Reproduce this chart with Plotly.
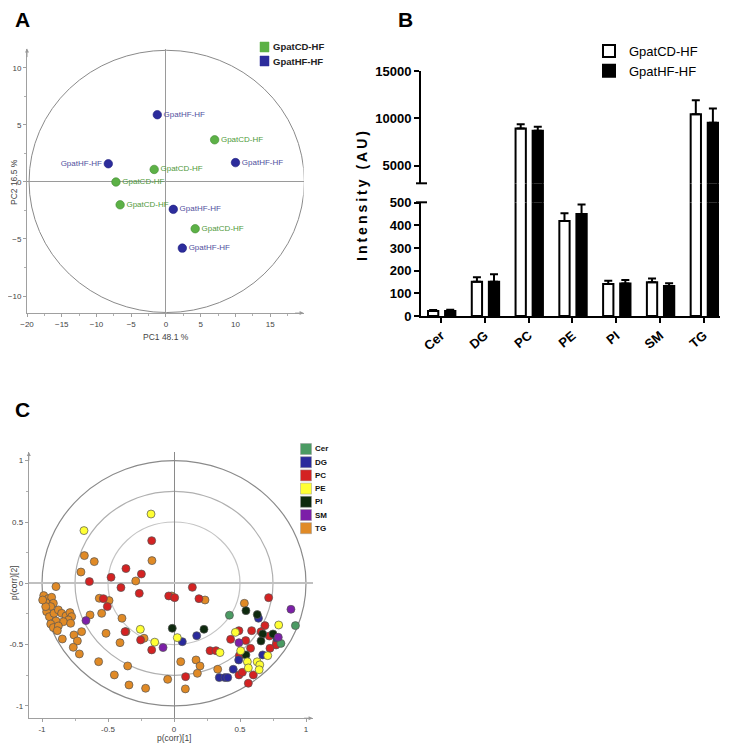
import plotly.graph_objects as go

# ---------------- Panel A data (PCA scores) ----------------
a_groups = ["GpatCD-HF", "GpatHF-HF"]
a_cd_x = [7.0, -1.7, -7.2, -6.6, 4.2]
a_cd_y = [3.7, 1.1, 0.0, -2.0, -4.1]
a_hf_x = [-1.25, -8.3, 10.0, 1.05, 2.35]
a_hf_y = [5.9, 1.6, 1.7, -2.4, -5.8]
a_ellipse_rx = 19.8
a_ellipse_ry = 11.5
a_xticks = [-20, -15, -10, -5, 0, 5, 10, 15]
a_yticks = [-10, -5, 0, 5, 10]

# ---------------- Panel B data (intensities) ----------------
b_classes = ["Cer", "DG", "PC", "PE", "PI", "SM", "TG"]
b_cd_mean = [22, 151, 8950, 419, 141, 149, 10450]
b_cd_err = [5, 20, 450, 35, 15, 17, 1480]
b_hf_mean = [22, 151, 8700, 450, 144, 132, 9540]
b_hf_err = [6, 33, 420, 42, 15, 13, 1510]
b_low_ticks = [0, 100, 200, 300, 400, 500]
b_high_ticks = [5000, 10000, 15000]
b_high_ticktext = ["5000", "10000", "15000"]
b_low_range = [0, 502]
b_gap_range = [500, 3150]
b_high_range = [3150, 15050]

# ---------------- Panel C data (loadings p(corr)) ----------------
c_classes = ["Cer", "DG", "PC", "PE", "PI", "SM", "TG"]
cer_x = [0.42, 0.92, 0.81]
cer_y = [-0.26, -0.345, -0.49]
dg_x = [0.063, 0.172, 0.64, 0.49, 0.449, 0.343, 0.386, 0.407, 0.672, 0.778]
dg_y = [-0.476, -0.427, -0.285, -0.625, -0.701, -0.769, -0.769, -0.769, -0.584, -0.443]
pc_x = [-0.169, -0.364, -0.247, -0.477, -0.641, -0.402, -0.263, -0.535, -0.505, -0.04,
        0.005, 0.139, 0.189, -0.371, -0.253, -0.169, 0.273, 0.318, 0.088, 0.429,
        0.492, 0.543, 0.588, 0.58, 0.495, 0.492, 0.518, 0.601, 0.563, 0.689,
        0.717, 0.722, 0.778, 0.773, 0.659, 0.727]
pc_y = [0.348, 0.12, 0.076, 0.049, 0.014, -0.035, -0.082, -0.125, -0.19, -0.103,
        -0.117, -0.033, -0.125, -0.394, -0.462, -0.543, -0.549, -0.549, -0.761, -0.457,
        -0.386, -0.467, -0.386, -0.53, -0.59, -0.747, -0.726, -0.747, -0.815, -0.345,
        -0.117, -0.43, -0.476, -0.503, -0.394, -0.53]
pe_x = [-0.682, -0.174, -0.255, -0.146, 0.025, 0.348, 0.465, 0.505, 0.793, 0.71,
        0.556, 0.563, 0.63, 0.65, 0.645]
pe_y = [0.43, 0.565, -0.375, -0.48, -0.443, -0.565, -0.40, -0.55, -0.34, -0.59,
        -0.64, -0.69, -0.64, -0.665, -0.705]
pi_x = [-0.013, 0.227, 0.545, 0.631, 0.672, 0.659, 0.75, 0.545]
pi_y = [-0.367, -0.375, -0.223, -0.255, -0.413, -0.47, -0.413, -0.584]
sm_x = [-0.667, -0.083, 0.886, 0.492, 0.79]
sm_y = [-0.304, -0.524, -0.212, -0.484, -0.44]
tg_x = [-0.679, -0.604, -0.705, -0.167, -0.29, -0.894, -0.566, -0.492, -0.018, 0.235,
        0.533, -0.636, -0.548, -0.394, -0.364, -0.515, -0.409, -0.227, -0.70, -0.758,
        -0.732, -0.763, -0.717, -0.846, -0.571, -0.351, -0.452, -0.341, -0.215, -0.048,
        0.051, 0.086, 0.167, 0.197, 0.177, 0.331,
        -0.987, -0.952, -0.927, -0.97, -0.914, -0.934, -0.965, -0.944, -0.909, -0.876,
        -0.851, -0.818, -0.788, -0.775, -0.80, -0.838, -0.894, -0.934, -0.914, -0.876,
        -0.783, -0.884, -0.972, -0.995]
tg_y = [0.226, 0.177, 0.092, 0.185, 0.019, -0.027, -0.122, -0.141, -0.103, -0.136,
        -0.163, -0.258, -0.245, -0.285, -0.394, -0.408, -0.484, -0.448, -0.394, -0.421,
        -0.47, -0.522, -0.576, -0.454, -0.639, -0.674, -0.747, -0.829, -0.856, -0.783,
        -0.639, -0.861, -0.625, -0.674, -0.734, -0.701,
        -0.10, -0.125, -0.114, -0.158, -0.163, -0.19, -0.231, -0.272, -0.245, -0.217,
        -0.245, -0.266, -0.239, -0.272, -0.299, -0.313, -0.307, -0.332, -0.361, -0.348,
        -0.326, -0.386, -0.19, -0.136]
c_ring_radii = [1.0, 0.75, 0.5]
c_ticks = [-1, -0.5, 0, 0.5, 1]
c_ticktext = ["-1", "-0.5", "0", "0.5", "1"]

# ---------------- styling ----------------
# the page body has an 8px default margin; the figure is sized to fit the window
OFF = 8
W, H = 731 - OFF, 749 - OFF
def px_x(p):
    return (p - OFF) / W
def px_y(p):
    return 1 - (p - OFF) / H
def dom_x(a, b):
    return [px_x(a), px_x(b)]
def dom_y(top, bottom):
    return [px_y(bottom), px_y(top)]

A_GREEN, A_BLUE = "#5cb146", "#2c2c9c"
C_COLORS = ["#4b9b63", "#2a2a9c", "#d42222", "#ffff33", "#0e2a0e", "#7c1fa8", "#e08a26"]
SMALL = "Liberation Sans"
GRAY_TXT = "#444444"

fig = go.Figure()

# ---- Panel A traces ----
fig.add_trace(go.Scatter(
    x=a_cd_x, y=a_cd_y, mode="markers+text", text=[a_groups[0]] * len(a_cd_x),
    textposition="middle right", textfont=dict(size=8, color="#4f9a3a", family=SMALL),
    marker=dict(size=8.5, color=A_GREEN, line=dict(color="#3f8a30", width=0.6)),
    xaxis="x", yaxis="y", showlegend=False, cliponaxis=False))
hf_pos = ["middle right"] * len(a_hf_x)
hf_pos[1] = "middle left"
fig.add_trace(go.Scatter(
    x=a_hf_x, y=a_hf_y, mode="markers+text", text=[a_groups[1]] * len(a_hf_x),
    textposition=hf_pos, textfont=dict(size=8, color="#50509e", family=SMALL),
    marker=dict(size=8.5, color=A_BLUE, line=dict(color="#1c1c7c", width=0.6)),
    xaxis="x", yaxis="y", showlegend=False, cliponaxis=False))

# ---- Panel B traces (broken axis: lower, gap, upper) ----
def err(arr, on):
    if not on:
        return dict(visible=False)
    return dict(type="data", symmetric=False, array=arr, arrayminus=[0] * len(arr),
                color="black", thickness=2, width=4)

def above(vals, lo):
    return [v if v > lo else None for v in vals]

segments = [("y2", b_low_range), ("y3", b_gap_range), ("y4", b_high_range)]
for ya, rng in segments:
    lo = rng[0]
    fig.add_trace(go.Bar(
        x=b_classes, y=above(b_cd_mean, lo) if ya != "y2" else b_cd_mean,
        name="GpatCD-HF", legend="legend2",
        showlegend=(ya == "y2"), width=0.235, offset=-0.30,
        marker=dict(color="white", line=dict(color="black", width=2)),
        error_y=err(b_cd_err, ya != "y3"), xaxis="x2", yaxis=ya))
    fig.add_trace(go.Bar(
        x=b_classes, y=above(b_hf_mean, lo) if ya != "y2" else b_hf_mean,
        name="GpatHF-HF", legend="legend2",
        showlegend=(ya == "y2"), width=0.235, offset=0.09,
        marker=dict(color="black", line=dict(color="black", width=2)),
        error_y=err(b_hf_err, ya != "y3"), xaxis="x2", yaxis=ya))

# ---- Panel C traces ----
c_xs = [cer_x, dg_x, pc_x, pe_x, pi_x, sm_x, tg_x]
c_ys = [cer_y, dg_y, pc_y, pe_y, pi_y, sm_y, tg_y]
order = [6, 2, 1, 0, 4, 5, 3]
for i in order:
    fig.add_trace(go.Scatter(
        x=c_xs[i], y=c_ys[i], mode="markers", name=c_classes[i],
        marker=dict(size=8, color=C_COLORS[i], line=dict(color="#555555", width=0.7)),
        xaxis="x3", yaxis="y5", showlegend=False))

shapes = []
annotations = []

# Panel A ellipse
shapes.append(dict(type="circle", xref="x", yref="y", x0=-a_ellipse_rx + 0.1, x1=a_ellipse_rx + 0.1,
                   y0=-a_ellipse_ry + 0.05, y1=a_ellipse_ry + 0.05,
                   line=dict(color="#8a8a8a", width=1), layer="below"))
# Panel C rings
ring_cols = ["#8a8a8a", "#b0b0b0", "#c4c4c4"]
for r, col in zip(c_ring_radii, ring_cols):
    shapes.append(dict(type="circle", xref="x3", yref="y5", x0=-r, x1=r, y0=-r, y1=r,
                       line=dict(color=col, width=1.2), layer="below"))

# Panel B axis-break marks
for by in [183.3, 202.3]:
    shapes.append(dict(type="line", xref="paper", yref="paper",
                       x0=px_x(416), x1=px_x(427), y0=px_y(by), y1=px_y(by),
                       line=dict(color="black", width=2)))

# Axis arrows (A and C)
arrow = dict(showarrow=True, arrowhead=2, arrowsize=0.8, arrowwidth=1, arrowcolor="#999999", text="")
annotations.append(dict(x=19.8, y=-11.5, xref="x", yref="y", ax=-10, ay=0, **arrow))
annotations.append(dict(x=-20, y=11.7, xref="x", yref="y", ax=0, ay=10, **arrow))
annotations.append(dict(x=1.05, y=-1.1, xref="x3", yref="y5", ax=-10, ay=0, **arrow))
annotations.append(dict(x=-1.1, y=1.07, xref="x3", yref="y5", ax=0, ay=10, **arrow))

def ptext(text, x, y, size, color="black", angle=0, xanchor="center", family="Liberation Sans"):
    annotations.append(dict(text=text, x=px_x(x), y=px_y(y), xref="paper", yref="paper",
                            xanchor=xanchor, yanchor="middle", textangle=angle, showarrow=False,
                            font=dict(size=size, family=family, color=color)))

# Panel letters
for letter, (lx, ly) in zip(["A", "B", "C"], [(22, 19), (405, 19), (22, 409)]):
    ptext(f"<b>{letter}</b>", lx, ly, 21)

# Axis titles
ptext("PC1 48.1 %", 166, 337, 8.5, GRAY_TXT, family=SMALL)
ptext("PC2 16.5 %", 14, 182, 8.5, GRAY_TXT, angle=-90, family=SMALL)
ptext("p(corr)[1]", 174, 738, 8.5, GRAY_TXT, family=SMALL)
ptext("p(corr)[2]", 14, 583, 8.5, GRAY_TXT, angle=-90, family=SMALL)
ptext('<span style="letter-spacing:3px"><b>Intensity (AU)</b></span>', 362, 195, 14, angle=-90)

# Panel A legend (squares + text)
for i, (g, col) in enumerate(zip(a_groups, [A_GREEN, A_BLUE])):
    cy = 47 + i * 14
    shapes.append(dict(type="rect", xref="paper", yref="paper",
                       x0=px_x(260), x1=px_x(269), y0=px_y(cy + 5), y1=px_y(cy - 5),
                       fillcolor=col, line=dict(color=col, width=0.5)))
    ptext(f"<b>{g}</b>", 270.5, cy, 9.5, "#222222", xanchor="left")

# Panel C legend (squares + text)
for i, (cname, col) in enumerate(zip(c_classes, C_COLORS)):
    cy = 449 + i * 13.2
    shapes.append(dict(type="rect", xref="paper", yref="paper",
                       x0=px_x(300.5), x1=px_x(311.5), y0=px_y(cy + 5.5), y1=px_y(cy - 5.5),
                       fillcolor=col, line=dict(color="#999999", width=0.5)))
    ptext(f"<b>{cname}</b>", 312.5, cy, 8, "#111111", xanchor="left")

small_tick = dict(size=8, family=SMALL, color=GRAY_TXT)
ax_common = dict(showline=True, linecolor="#a0a0a0", linewidth=1, showgrid=False, automargin=False,
                 ticks="outside", ticklen=3, tickcolor="#a0a0a0", tickfont=small_tick)

bold_tick = dict(size=13, family="Liberation Sans", color="black", weight="bold")
b_axis = dict(showline=True, linecolor="black", linewidth=2, showgrid=False, zeroline=False,
              automargin=False, ticks="outside", ticklen=5, tickwidth=2, tickcolor="black",
              tickfont=bold_tick)

fig.update_layout(
    template="none",
    width=W, height=H, margin=dict(l=0, r=0, t=0, b=0, pad=0), autosize=False,
    paper_bgcolor="white", plot_bgcolor="rgba(0,0,0,0)",
    font=dict(family="Liberation Sans", color="black"),
    barmode="overlay",
    shapes=shapes, annotations=annotations,
    # Panel A
    xaxis=dict(domain=dom_x(27, 303.6), range=[-20, 19.8], anchor="y", tickvals=a_xticks,
               zeroline=True, zerolinecolor="#9a9a9a", zerolinewidth=1,
               minor=dict(dtick=2.5, ticklen=2, tickcolor="#b0b0b0", ticks="outside"), **ax_common),
    yaxis=dict(domain=dom_y(48.6, 313.1), range=[-11.5, 11.7], anchor="x", tickvals=a_yticks,
               zeroline=True, zerolinecolor="#9a9a9a", zerolinewidth=1,
               minor=dict(dtick=2.5, ticklen=2, tickcolor="#b0b0b0", ticks="outside"), **ax_common),
    # Panel B
    xaxis2=dict(domain=dom_x(421, 720), range=[-0.46, 6.37], anchor="y2", tickangle=-40,
                **b_axis),
    yaxis2=dict(domain=dom_y(202.3, 316), range=b_low_range, anchor="x2", tickvals=b_low_ticks,
                **b_axis),
    yaxis3=dict(domain=dom_y(183.3, 202.3), range=b_gap_range, anchor="x2", visible=False),
    yaxis4=dict(domain=dom_y(70.7, 183.3), range=b_high_range, anchor="x2", tickvals=b_high_ticks,
                ticktext=b_high_ticktext, **b_axis),
    # Panel C
    xaxis3=dict(domain=dom_x(28.8, 312.6), range=[-1.1, 1.05], anchor="y5", tickvals=c_ticks,
                ticktext=c_ticktext, zeroline=True, zerolinecolor="#8a8a8a", zerolinewidth=1,
                minor=dict(dtick=0.25, ticklen=2, tickcolor="#b0b0b0", ticks="outside"), **ax_common),
    yaxis5=dict(domain=dom_y(452.1, 718.2), range=[-1.1, 1.07], anchor="x3", tickvals=c_ticks,
                ticktext=c_ticktext, zeroline=True, zerolinecolor="#c0c0c0", zerolinewidth=1.5,
                minor=dict(dtick=0.25, ticklen=2, tickcolor="#b0b0b0", ticks="outside"), **ax_common),
    legend2=dict(x=px_x(589), y=px_y(36), xanchor="left", yanchor="top", bgcolor="rgba(0,0,0,0)",
                 font=dict(size=13, family="Liberation Sans", color="black"), tracegroupgap=0),
)

fig.write_html("out.html")
